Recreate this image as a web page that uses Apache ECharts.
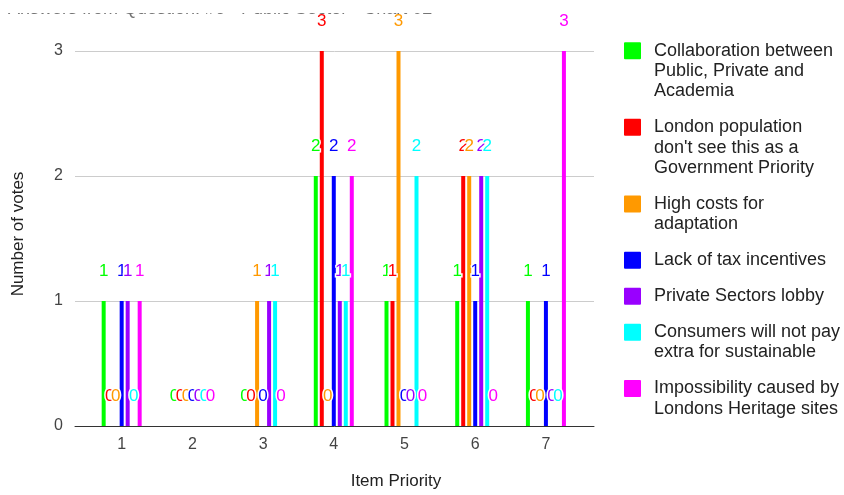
<!DOCTYPE html>
<html><head><meta charset="utf-8">
<script src="https://cdn.jsdelivr.net/npm/echarts@6/dist/echarts.min.js"></script>
<style>html,body{margin:0;padding:0;background:#fff}#c{width:844px;height:495px}</style>
</head><body><div id="c"></div>
<script>
const titleText = 'Answers from Question: #6 - Public Sector - Chart 02';
const xAxisTitle = 'Item Priority';
const yAxisTitle = 'Number of votes';
const categories = ['1', '2', '3', '4', '5', '6', '7'];
const yTicks = [0, 1, 2, 3];
const seriesNames = [
  'Collaboration between Public, Private and Academia',
  "London population don't see this as a Government Priority",
  'High costs for adaptation',
  'Lack of tax incentives',
  'Private Sectors lobby',
  'Consumers will not pay extra for sustainable',
  'Impossibility caused by Londons Heritage sites'
];
const legendLabels = [
  'Collaboration between\nPublic, Private and\nAcademia',
  "London population\ndon't see this as a\nGovernment Priority",
  'High costs for\nadaptation',
  'Lack of tax incentives',
  'Private Sectors lobby',
  'Consumers will not pay\nextra for sustainable',
  'Impossibility caused by\nLondons Heritage sites'
];
const seriesColors = ['#00ff00', '#ff0000', '#ff9900', '#0000ff', '#9900ff', '#00ffff', '#ff00ff'];
const collaboration    = [1, 0, 0, 2, 1, 1, 1];
const londonPopulation = [0, 0, 0, 3, 1, 2, 0];
const highCosts        = [0, 0, 1, 0, 3, 2, 0];
const lackOfTax        = [1, 0, 0, 2, 0, 1, 1];
const privateLobby     = [1, 0, 1, 1, 0, 2, 0];
const consumers        = [0, 0, 1, 1, 2, 2, 0];
const heritage         = [1, 0, 0, 2, 0, 0, 3];
const seriesValues = [collaboration, londonPopulation, highCosts, lackOfTax, privateLobby, consumers, heritage];

// layout constants
const FONT = '"Liberation Sans", Arial, sans-serif';
const LH = 20.3, GAP = 15.7, ICON = 17;

const chart = echarts.init(document.getElementById('c'), null, {renderer: 'canvas'});

let c = 50.7; // centre of first legend line
const legends = seriesNames.map((name, i) => {
  const label = legendLabels[i];
  const n = label.split('\n').length;
  const H = n * LH;
  const y0 = LH / 2 - ICON / 2, y1 = y0 + ICON;
  const icon = `path://M0,0L${ICON},0M0,${H}L${ICON},${H}` +
    `M1,${y0}L${ICON - 1},${y0}Q${ICON},${y0} ${ICON},${y0 + 1}L${ICON},${y1 - 1}Q${ICON},${y1} ${ICON - 1},${y1}` +
    `L1,${y1}Q0,${y1} 0,${y1 - 1}L0,${y0 + 1}Q0,${y0} 1,${y0}Z`;
  const lg = {
    data: [{name, icon}], orient: 'vertical', left: 624, top: c - LH / 2,
    padding: 0, itemWidth: ICON, itemHeight: H, selectedMode: false,
    formatter: () => label,
    itemStyle: {borderWidth: 0},
    textStyle: {fontFamily: FONT, fontSize: 18, color: '#222', lineHeight: LH, padding: [0, 0, 0, 8]}
  };
  c += n * LH + GAP;
  return lg;
});

const series = seriesNames.map((name, i) => ({
  name, type: 'bar',
  data: seriesValues[i].map((v, k) => [k + 1, v]),
  barWidth: 4, barGap: '50%',
  itemStyle: {color: seriesColors[i]},
  label: {
    show: true, position: 'top', distance: 21,
    color: seriesColors[i], fontFamily: FONT, fontSize: 17,
    textBorderColor: '#fff', textBorderWidth: 3,
    formatter: p => String(p.value[1])
  },
  emphasis: {disabled: true}
}));

chart.setOption({
  animation: false,
  backgroundColor: '#fff',
  title: {
    text: titleText, left: 8, top: 0.5, padding: 0,
    textStyle: {fontFamily: FONT, fontSize: 18, fontWeight: 'normal', color: '#757575'}
  },
  graphic: {
    elements: [{type: 'rect', left: 0, top: 0, zlevel: 1, z: 100, shape: {width: 844, height: 13}, style: {fill: '#ffffff'}, silent: true}]
  },
  legend: legends,
  grid: {left: 75, right: 250, top: 51, bottom: 69, containLabel: false},
  xAxis: {
    type: 'value', min: 0.34, max: 7.68,
    name: xAxisTitle, nameLocation: 'middle', nameGap: 47,
    nameTextStyle: {fontFamily: FONT, fontSize: 17, color: '#222', padding: [0, 0, 0, 123]},
    axisLine: {show: true, onZero: false, lineStyle: {color: '#333', width: 1}},
    axisTick: {show: false},
    splitLine: {show: false},
    axisLabel: {
      customValues: categories.map((_, k) => k + 1),
      formatter: v => categories[Math.round(v) - 1] || '',
      fontFamily: FONT, fontSize: 16, color: '#444', margin: 11
    }
  },
  yAxis: {
    type: 'value', min: yTicks[0], max: yTicks[yTicks.length - 1], interval: 1,
    name: yAxisTitle, nameLocation: 'middle', nameGap: 48,
    nameTextStyle: {fontFamily: FONT, fontSize: 17, color: '#222', padding: [0, 0, 0, 9]},
    axisLine: {show: false}, axisTick: {show: false},
    splitLine: {show: true, lineStyle: {color: '#cccccc', width: 1}},
    axisLabel: {fontFamily: FONT, fontSize: 16, color: '#444', margin: 12}
  },
  series
});
</script>
</body></html>
